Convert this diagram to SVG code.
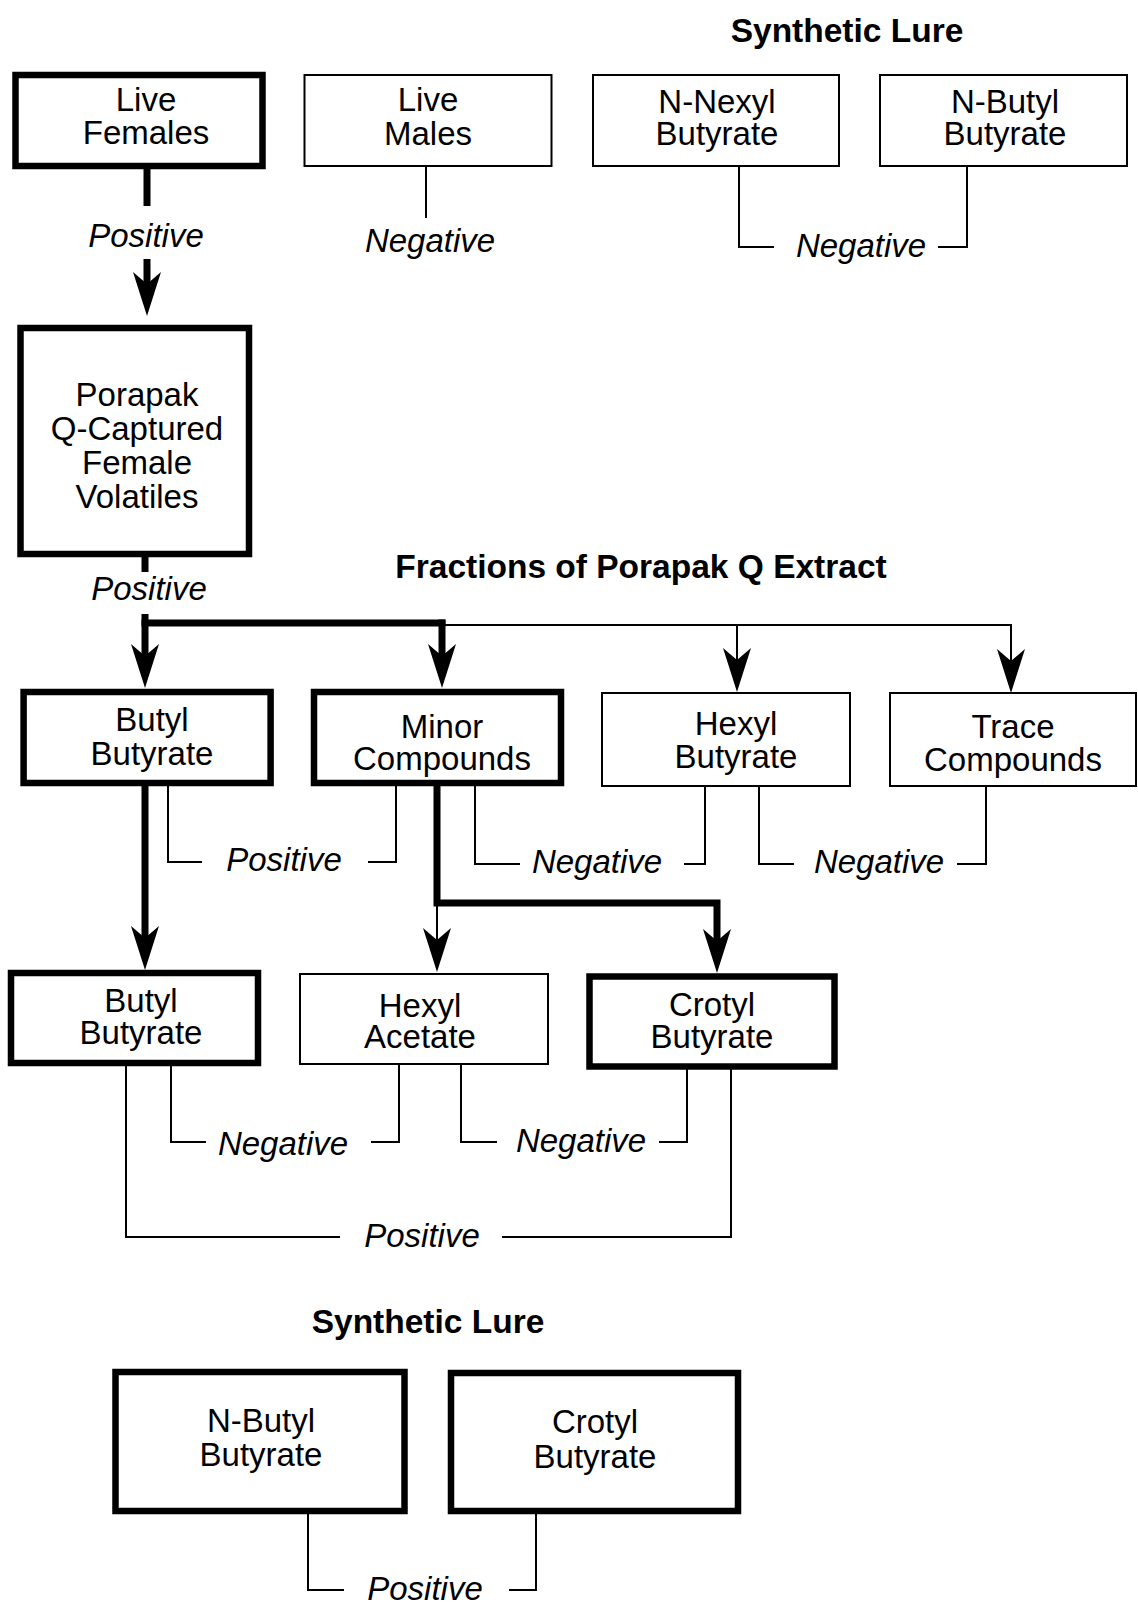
<svg xmlns="http://www.w3.org/2000/svg" width="1138" height="1613" viewBox="0 0 1138 1613">
<style>
.t{font-family:"Liberation Sans",Arial,Helvetica,sans-serif;font-size:33px;text-anchor:middle;fill:#000}
.i{font-style:italic}
.b{font-weight:bold;font-size:33.5px}
.bx{fill:#fff;stroke:#000;stroke-width:2}
.bk{stroke-width:6.5}
.c{fill:none;stroke:#000;stroke-width:2}
.C{stroke-width:7}
</style>
<defs>
<marker id="ah" markerUnits="userSpaceOnUse" viewBox="0 -15 46 30" markerWidth="46" markerHeight="30" refX="12" refY="0" orient="auto">
<path d="M0,-14 L44,0 L0,14 L12,0 Z" fill="#000"/>
</marker>
</defs>
<rect width="1138" height="1613" fill="#fff"/>

<text class="t b" x="847" y="42">Synthetic Lure</text>
<text class="t b" x="641" y="578">Fractions of Porapak Q Extract</text>
<text class="t b" x="428" y="1333">Synthetic Lure</text>

<g id="connectors">
<path class="c C" d="M147,169 V206"/>
<path class="c C" d="M147,259 V284" marker-end="url(#ah)"/>
<text class="t i" x="146" y="247">Positive</text>
<path class="c" d="M426,167 V218"/>
<text class="t i" x="430" y="252">Negative</text>
<path class="c" d="M739,167 V247 H774"/>
<path class="c" d="M938,247 H967 V167"/>
<text class="t i" x="861" y="257">Negative</text>

<path class="c C" d="M145,557 V572"/>
<text class="t i" x="149" y="600">Positive</text>
<path class="c C" d="M145,614 V656" marker-end="url(#ah)"/>
<path class="c C" d="M141.5,623 H445.5"/>
<path class="c C" d="M442,619.5 V656" marker-end="url(#ah)"/>
<path class="c" d="M442,625 H1011 V661" marker-end="url(#ah)"/>
<path class="c" d="M737,625 V660" marker-end="url(#ah)"/>

<path class="c C" d="M145,786 V938" marker-end="url(#ah)"/>
<path class="c" d="M168,786 V862 H202"/>
<path class="c" d="M368,862 H396 V786"/>
<text class="t i" x="284" y="871">Positive</text>
<path class="c C" d="M437,786 V903 H717 V941" marker-end="url(#ah)"/>
<path class="c" d="M437,903 V940" marker-end="url(#ah)"/>
<path class="c" d="M475,786 V864 H520"/>
<path class="c" d="M684,864 H705 V786"/>
<text class="t i" x="597" y="873">Negative</text>
<path class="c" d="M759,786 V864 H794"/>
<path class="c" d="M957,864 H986 V786"/>
<text class="t i" x="879" y="873">Negative</text>

<path class="c" d="M171,1066 V1142 H206"/>
<path class="c" d="M371,1142 H399 V1064"/>
<text class="t i" x="283" y="1155">Negative</text>
<path class="c" d="M461,1064 V1142 H497"/>
<path class="c" d="M659,1142 H687 V1069"/>
<text class="t i" x="581" y="1152">Negative</text>
<path class="c" d="M126,1066 V1237 H340"/>
<path class="c" d="M502,1237 H731 V1069"/>
<text class="t i" x="422" y="1247">Positive</text>

<path class="c" d="M308,1514 V1590 H344"/>
<path class="c" d="M509,1590 H536 V1514"/>
<text class="t i" x="425" y="1600">Positive</text>
</g>

<g id="live-females"><rect class="bx bk" x="15.5" y="75" width="247" height="91"/><text class="t"><tspan x="146" y="111">Live</tspan><tspan x="146" y="144">Females</tspan></text></g>
<g id="live-males"><rect class="bx" x="304.5" y="75" width="247" height="91"/><text class="t"><tspan x="428" y="111">Live</tspan><tspan x="428" y="145">Males</tspan></text></g>
<g id="n-nexyl-butyrate"><rect class="bx" x="593" y="75" width="246" height="91"/><text class="t"><tspan x="717" y="113">N-Nexyl</tspan><tspan x="717" y="145">Butyrate</tspan></text></g>
<g id="n-butyl-butyrate-top"><rect class="bx" x="880" y="75" width="247" height="91"/><text class="t"><tspan x="1005" y="113">N-Butyl</tspan><tspan x="1005" y="145">Butyrate</tspan></text></g>

<g id="porapak"><rect class="bx bk" x="20.5" y="328" width="228.5" height="226"/><text class="t"><tspan x="137" y="406">Porapak</tspan><tspan x="137" y="440">Q-Captured</tspan><tspan x="137" y="474">Female</tspan><tspan x="137" y="508">Volatiles</tspan></text></g>

<g id="butyl-butyrate-1"><rect class="bx bk" x="23.6" y="692" width="247" height="91"/><text class="t"><tspan x="152" y="731">Butyl</tspan><tspan x="152" y="765">Butyrate</tspan></text></g>
<g id="minor-compounds"><rect class="bx bk" x="314" y="692" width="247" height="91"/><text class="t"><tspan x="442" y="738">Minor</tspan><tspan x="442" y="770">Compounds</tspan></text></g>
<g id="hexyl-butyrate"><rect class="bx" x="602" y="693" width="248" height="93"/><text class="t"><tspan x="736" y="735">Hexyl</tspan><tspan x="736" y="768">Butyrate</tspan></text></g>
<g id="trace-compounds"><rect class="bx" x="890" y="693" width="246" height="93"/><text class="t"><tspan x="1013" y="738">Trace</tspan><tspan x="1013" y="771">Compounds</tspan></text></g>

<g id="butyl-butyrate-2"><rect class="bx bk" x="11" y="973" width="247" height="90"/><text class="t"><tspan x="141" y="1012">Butyl</tspan><tspan x="141" y="1044">Butyrate</tspan></text></g>
<g id="hexyl-acetate"><rect class="bx" x="300" y="974" width="248" height="90"/><text class="t"><tspan x="420" y="1017">Hexyl</tspan><tspan x="420" y="1048">Acetate</tspan></text></g>
<g id="crotyl-butyrate"><rect class="bx bk" x="589.5" y="976.5" width="245" height="90"/><text class="t"><tspan x="712" y="1016">Crotyl</tspan><tspan x="712" y="1048">Butyrate</tspan></text></g>

<g id="n-butyl-butyrate-lure"><rect class="bx bk" x="115.5" y="1372" width="289" height="139"/><text class="t"><tspan x="261" y="1432">N-Butyl</tspan><tspan x="261" y="1466">Butyrate</tspan></text></g>
<g id="crotyl-butyrate-lure"><rect class="bx bk" x="451" y="1373" width="287" height="138"/><text class="t"><tspan x="595" y="1433">Crotyl</tspan><tspan x="595" y="1468">Butyrate</tspan></text></g>
</svg>
